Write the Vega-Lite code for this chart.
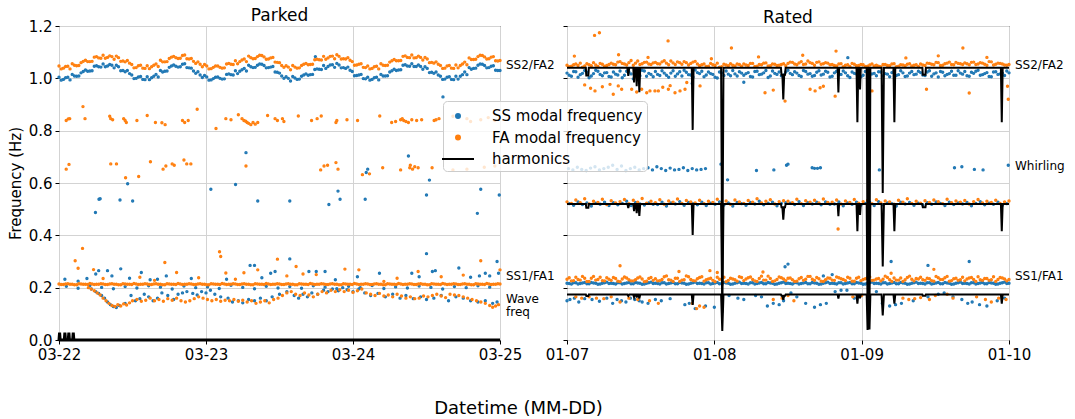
{
"$schema":"https://vega.github.io/schema/vega-lite/v6.json",
"autosize":{"type":"pad"},
"padding":{"left":7,"top":6,"right":5,"bottom":0},
"background":"#ffffff",
"spacing":67,
"bounds":"flush",
"resolve":{"scale":{"fill":"shared","stroke":"shared","shape":"shared"},"legend":{"fill":"shared","stroke":"shared","shape":"shared"}},
"config":{
 "font":"DejaVu Sans",
 "view":{"stroke":"#000000","strokeWidth":1},
 "axis":{"domain":false,"labelFont":"DejaVu Sans","labelFontSize":15,"labelColor":"#000000","tickColor":"#000000","tickSize":4,"labelPadding":3,"gridColor":"#d3d3d3","gridWidth":1,"titleFont":"DejaVu Sans","titleFontWeight":"normal","titleColor":"#000000"},
 "title":{"font":"DejaVu Sans","fontSize":17,"fontWeight":"normal","color":"#000000","anchor":"middle","frame":"group"},
 "legend":{"orient":"none","legendX":384,"legendY":75,"title":null,"labelFont":"DejaVu Sans","labelFontSize":15,"labelColor":"#000000","symbolSize":400,"symbolStrokeWidth":2,"labelOffset":23,"rowPadding":2.5,"padding":4,"fillColor":"rgba(255,255,255,0.8)","strokeColor":"#cccccc","cornerRadius":4}
},
"datasets":{
 "pts":[
  {"p":"Parked","s":"SS modal frequency","t":[0,0.03,0.06,0.09,0.12,0.15,0.18,0.21,0.24,0.27,0.3,0.33,0.36,0.39,0.42,0.45,0.48,0.51,0.54,0.57,0.6,0.63,0.66,0.69,0.72,0.75,0.78,0.81,0.84,0.87,0.9,0.93,0.96,0.99,1.02,1.05,1.08,1.11,1.14,1.17,1.2,1.23,1.26,1.29,1.32,1.35,1.38,1.41,1.44,1.47,1.5,1.53,1.56,1.59,1.62,1.65,1.68,1.71,1.74,1.77,1.8,1.83,1.86,1.89,1.92,1.95,1.98,2.01,2.04,2.07,2.1,2.13,2.16,2.19,2.22,2.25,2.28,2.31,2.34,2.37,2.4,2.43,2.46,2.49,2.52,2.55,2.58,2.61,2.64,2.67,2.7,2.73,2.76,2.79,2.82,2.85,2.88,2.91,2.94,2.97,3],
   "f":[1.004,0.996,1.004,1.015,1.008,1.021,1.032,1.028,1.046,1.044,1.055,1.047,1.050,1.050,1.029,1.025,1.018,0.999,1.005,0.996,1.006,1.002,1.015,1.030,1.027,1.042,1.051,1.043,1.054,1.041,1.039,1.019,1.013,1.011,0.993,0.999,1.005,0.997,1.015,1.014,1.029,1.027,1.038,1.050,1.041,1.050,1.054,1.040,1.043,1.024,1.020,1.000,1.000,1.007,0.996,1.008,1.017,1.014,1.034,1.035,1.049,1.045,1.052,1.057,1.040,1.038,1.031,1.010,1.013,0.999,1.004,0.996,1.004,1.015,1.009,1.024,1.035,1.032,1.050,1.047,1.056,1.045,1.045,1.044,1.022,1.019,1.013,0.996,1.004,0.996,1.008,1.008,1.024,1.041,1.038,1.050,1.054,1.040,1.046,1.031,1.030]},
  {"p":"Parked","s":"SS modal frequency","t":[0.015,0.045,0.075,0.105,0.135,0.165,0.195,0.225,0.255,0.285,0.315,0.345,0.375,0.405,0.435,0.465,0.495,0.525,0.555,0.585,0.615,0.645,0.675,0.705,0.735,0.765,0.795,0.825,0.855,0.885,0.915,0.945,0.975,1.005,1.035,1.065,1.095,1.125,1.155,1.185,1.215,1.245,1.275,1.305,1.335,1.365,1.395,1.425,1.455,1.485,1.515,1.545,1.575,1.605,1.635,1.665,1.695,1.725,1.755,1.785,1.815,1.845,1.875,1.905,1.935,1.965,1.995,2.025,2.055,2.085,2.115,2.145,2.175,2.205,2.235,2.265,2.295,2.325,2.355,2.385,2.415,2.445,2.475,2.505,2.535,2.565,2.595,2.625,2.655,2.685,2.715,2.745,2.775,2.805,2.835,2.865,2.895,2.925,2.955,2.985],
   "f":[0.993,1.002,0.994,1.009,1.009,1.026,1.027,1.029,1.048,1.043,1.044,1.053,1.040,1.044,1.030,1.030,1.013,1.000,1.007,0.995,0.995,1.008,1.005,1.024,1.028,1.047,1.046,1.044,1.056,1.040,1.028,1.025,1.003,1.005,0.994,1.004,1.000,0.998,1.017,1.013,1.018,1.033,1.028,1.044,1.042,1.055,1.049,1.041,1.045,1.023,1.009,1.006,0.990,1.001,0.997,1.013,1.012,1.015,1.036,1.034,1.038,1.051,1.042,1.051,1.041,1.043,1.026,1.011,1.015,0.998,0.993,1.002,0.994,1.009,1.010,1.029,1.030,1.033,1.052,1.046,1.045,1.051,1.035,1.038,1.023,1.024,1.008,0.997,1.006,0.995,0.997,1.014,1.014,1.035,1.039,1.055,1.049,1.041,1.048,1.030]},
  {"p":"Parked","s":"SS modal frequency","t":[0.248,0.272,0.28,0.415,0.467,0.501,1.033,1.201,1.272,1.352,1.57,1.836,1.898,1.912,2.083,2.09,2.10,2.377,2.50,2.52,2.612,2.846,2.869,2.995,1.744],
   "f":[0.487,0.538,0.540,0.535,0.597,0.531,0.576,0.594,0.716,0.531,0.531,0.518,0.569,0.538,0.538,0.640,0.653,0.703,0.554,0.611,0.929,0.484,0.576,0.554,1.083]},
  {"p":"Parked","s":"SS modal frequency","t":[0.04,0.13,0.19,0.25,0.27,0.33,0.36,0.42,0.48,0.56,0.62,0.67,0.73,0.90,1.14,1.30,1.33,1.38,1.44,1.47,1.57,1.70,1.75,1.81,1.88,2.03,2.18,2.40,2.45,2.50,2.54,2.56,2.72,2.80,2.86,2.90,2.93,2.98,2.99],
   "f":[0.232,0.225,0.235,0.252,0.265,0.265,0.245,0.272,0.236,0.258,0.230,0.232,0.245,0.235,0.232,0.285,0.285,0.238,0.255,0.262,0.310,0.262,0.262,0.262,0.230,0.242,0.255,0.255,0.242,0.330,0.262,0.265,0.275,0.240,0.245,0.255,0.245,0.300,0.255]},
  {"p":"Parked","s":"SS modal frequency","t":[0.22,0.25,0.27,0.29,0.31,0.33,0.35,0.37,0.39,0.41,0.45,0.49,0.52,0.55,0.58,0.61,0.64,0.67,0.70,0.74,0.78,0.81,0.84,0.87,0.91,0.94,0.97,1.00,1.03,1.06,1.10,1.15,1.18,1.22,1.25,1.29,1.33,1.37,1.41,1.45,1.50,1.55,1.60,1.63,1.66,1.69,1.72,1.76,1.80,1.83,1.86,1.90,1.93,1.96,2.00,2.04,2.08,2.12,2.17,2.22,2.27,2.32,2.36,2.41,2.46,2.50,2.55,2.60,2.65,2.70,2.75,2.80,2.85,2.90,2.95,2.98],
   "f":[0.195,0.185,0.178,0.170,0.160,0.145,0.135,0.128,0.124,0.132,0.140,0.170,0.150,0.158,0.175,0.165,0.150,0.160,0.180,0.170,0.155,0.175,0.180,0.185,0.178,0.172,0.185,0.180,0.190,0.175,0.165,0.160,0.145,0.150,0.142,0.155,0.150,0.160,0.150,0.165,0.175,0.185,0.170,0.160,0.175,0.165,0.180,0.175,0.190,0.185,0.195,0.188,0.200,0.192,0.185,0.195,0.180,0.170,0.178,0.165,0.175,0.160,0.170,0.158,0.165,0.155,0.160,0.170,0.150,0.165,0.160,0.150,0.145,0.150,0.140,0.145]},
  {"p":"Parked","s":"SS modal frequency","t":[0.05,0.13,0.21,0.29,0.37,0.45,0.53,0.61,0.69,0.77,0.85,0.93,1.01,1.09,1.17,1.25,1.33,1.41,1.49,1.57,1.65,1.73,1.81,1.89,1.97,2.05,2.13,2.21,2.29,2.37,2.45,2.53,2.61,2.69,2.77,2.85,2.93],
   "f":[0.205,0.198,0.208,0.201,0.196,0.204,0.199,0.207,0.202,0.195,0.206,0.200,0.203,0.197,0.209,0.201,0.196,0.205,0.199,0.204,0.198,0.207,0.202,0.196,0.205,0.200,0.208,0.197,0.203,0.199,0.206,0.201,0.195,0.204,0.200,0.207,0.202]},
  {"p":"Parked","s":"FA modal frequency","t":[0,0.03,0.06,0.09,0.12,0.15,0.18,0.21,0.24,0.27,0.3,0.33,0.36,0.39,0.42,0.45,0.48,0.51,0.54,0.57,0.6,0.63,0.66,0.69,0.72,0.75,0.78,0.81,0.84,0.87,0.9,0.93,0.96,0.99,1.02,1.05,1.08,1.11,1.14,1.17,1.2,1.23,1.26,1.29,1.32,1.35,1.38,1.41,1.44,1.47,1.5,1.53,1.56,1.59,1.62,1.65,1.68,1.71,1.74,1.77,1.8,1.83,1.86,1.89,1.92,1.95,1.98,2.01,2.04,2.07,2.1,2.13,2.16,2.19,2.22,2.25,2.28,2.31,2.34,2.37,2.4,2.43,2.46,2.49,2.52,2.55,2.58,2.61,2.64,2.67,2.7,2.73,2.76,2.79,2.82,2.85,2.88,2.91,2.94,2.97,3],
   "f":[1.047,1.039,1.046,1.056,1.048,1.060,1.069,1.064,1.081,1.078,1.088,1.080,1.083,1.085,1.065,1.063,1.058,1.040,1.048,1.039,1.048,1.044,1.055,1.069,1.063,1.076,1.084,1.076,1.087,1.075,1.076,1.057,1.054,1.053,1.036,1.042,1.047,1.039,1.055,1.054,1.067,1.064,1.074,1.085,1.075,1.083,1.087,1.073,1.078,1.062,1.060,1.042,1.043,1.049,1.039,1.049,1.057,1.053,1.071,1.071,1.084,1.078,1.085,1.090,1.074,1.074,1.069,1.050,1.054,1.042,1.047,1.038,1.046,1.056,1.049,1.062,1.072,1.067,1.084,1.080,1.089,1.079,1.080,1.080,1.060,1.058,1.054,1.038,1.047,1.039,1.051,1.049,1.062,1.078,1.072,1.083,1.087,1.074,1.081,1.067,1.068]},
  {"p":"Parked","s":"FA modal frequency","t":[0.015,0.045,0.075,0.105,0.135,0.165,0.195,0.225,0.255,0.285,0.315,0.345,0.375,0.405,0.435,0.465,0.495,0.525,0.555,0.585,0.615,0.645,0.675,0.705,0.735,0.765,0.795,0.825,0.855,0.885,0.915,0.945,0.975,1.005,1.035,1.065,1.095,1.125,1.155,1.185,1.215,1.245,1.275,1.305,1.335,1.365,1.395,1.425,1.455,1.485,1.515,1.545,1.575,1.605,1.635,1.665,1.695,1.725,1.755,1.785,1.815,1.845,1.875,1.905,1.935,1.965,1.995,2.025,2.055,2.085,2.115,2.145,2.175,2.205,2.235,2.265,2.295,2.325,2.355,2.385,2.415,2.445,2.475,2.505,2.535,2.565,2.595,2.625,2.655,2.685,2.715,2.745,2.775,2.805,2.835,2.865,2.895,2.925,2.955,2.985],
   "f":[1.036,1.045,1.036,1.050,1.049,1.065,1.064,1.065,1.083,1.077,1.077,1.086,1.073,1.079,1.066,1.068,1.053,1.041,1.050,1.038,1.037,1.050,1.045,1.063,1.064,1.081,1.079,1.077,1.089,1.074,1.065,1.063,1.044,1.047,1.037,1.047,1.042,1.040,1.057,1.053,1.056,1.070,1.064,1.079,1.076,1.088,1.082,1.074,1.080,1.061,1.049,1.048,1.033,1.043,1.040,1.054,1.052,1.054,1.073,1.070,1.073,1.084,1.075,1.084,1.075,1.079,1.064,1.051,1.056,1.041,1.036,1.044,1.036,1.050,1.050,1.067,1.067,1.068,1.086,1.079,1.078,1.085,1.070,1.074,1.061,1.063,1.049,1.039,1.049,1.038,1.040,1.055,1.052,1.072,1.073,1.088,1.082,1.075,1.083,1.066]},
  {"p":"Parked","s":"FA modal frequency","t":[0.049,0.063,0.073,0.163,0.177,0.345,0.352,0.365,0.44,0.45,0.458,0.53,0.60,0.656,0.70,0.722,0.84,0.855,0.879,0.94,1.068,1.135,1.17,1.22,1.245,1.258,1.27,1.28,1.29,1.305,1.32,1.335,1.352,1.419,1.47,1.486,1.52,1.53,1.628,1.718,1.756,1.784,1.884,1.89,1.959,2.031,2.182,2.263,2.29,2.324,2.335,2.345,2.36,2.377,2.40,2.433,2.467,2.552,2.565,2.585,2.68,2.775,2.80,2.869,2.92,2.965],
   "f":[0.839,0.845,0.846,0.892,0.846,0.855,0.846,0.842,0.846,0.839,0.831,0.839,0.858,0.831,0.830,0.823,0.839,0.831,0.839,0.882,0.808,0.846,0.842,0.861,0.846,0.839,0.836,0.831,0.828,0.823,0.831,0.825,0.831,0.858,0.846,0.839,0.846,0.835,0.856,0.839,0.846,0.856,0.831,0.839,0.842,0.839,0.856,0.831,0.835,0.842,0.846,0.839,0.835,0.831,0.842,0.839,0.842,0.839,0.842,0.846,0.855,0.846,0.835,0.842,0.850,0.839]},
  {"p":"Parked","s":"FA modal frequency","t":[0.049,0.068,0.352,0.391,0.453,0.542,0.622,0.708,0.727,0.770,0.784,0.850,0.869,0.897,1.272,1.780,1.803,1.827,1.884,1.898,2.064,2.112,2.202,2.324,2.386,2.39,2.405,2.42,2.443,2.538,2.68,2.775,2.893,2.965],
   "f":[0.653,0.671,0.673,0.673,0.620,0.625,0.681,0.653,0.665,0.673,0.668,0.688,0.673,0.673,0.665,0.650,0.665,0.668,0.678,0.653,0.632,0.635,0.658,0.650,0.658,0.668,0.653,0.662,0.658,0.658,0.650,0.653,0.660,0.665]},
  {"p":"Parked","s":"FA modal frequency","t":[0.20,0.22,0.24,0.26,0.28,0.30,0.32,0.34,0.36,0.38,0.40,0.42,0.44,0.46,0.48,0.50,0.53,0.56,0.59,0.62,0.65,0.68,0.71,0.74,0.77,0.80,0.83,0.86,0.89,0.92,0.95,0.98,1.01,1.04,1.07,1.10,1.13,1.16,1.19,1.22,1.25,1.28,1.31,1.34,1.37,1.40,1.43,1.46,1.49,1.52,1.55,1.58,1.61,1.64,1.67,1.70,1.73,1.76,1.79,1.82,1.85,1.88,1.91,1.94,1.97,2.00,2.03,2.06,2.09,2.12,2.15,2.18,2.21,2.24,2.27,2.30,2.33,2.36,2.39,2.42,2.45,2.48,2.51,2.54,2.57,2.60,2.63,2.66,2.69,2.72,2.75,2.78,2.81,2.84,2.87,2.90,2.93,2.95,2.97,2.99],
   "f":[0.200,0.195,0.188,0.180,0.172,0.160,0.150,0.140,0.132,0.128,0.135,0.130,0.138,0.134,0.142,0.150,0.155,0.148,0.152,0.160,0.150,0.155,0.148,0.158,0.152,0.160,0.150,0.145,0.150,0.158,0.165,0.160,0.155,0.150,0.155,0.148,0.152,0.150,0.155,0.148,0.152,0.145,0.150,0.140,0.145,0.150,0.142,0.155,0.160,0.170,0.180,0.185,0.175,0.170,0.180,0.172,0.165,0.175,0.185,0.180,0.190,0.185,0.192,0.185,0.190,0.182,0.188,0.195,0.180,0.175,0.170,0.178,0.168,0.172,0.165,0.175,0.168,0.160,0.165,0.158,0.160,0.168,0.165,0.170,0.175,0.168,0.162,0.175,0.172,0.170,0.165,0.160,0.155,0.150,0.145,0.140,0.132,0.125,0.130,0.135]},
  {"p":"Parked","s":"FA modal frequency","t":[0,0.03,0.06,0.09,0.12,0.15,0.18,0.21,0.24,0.27,0.3,0.33,0.36,0.39,0.42,0.45,0.48,0.51,0.54,0.57,0.6,0.63,0.66,0.69,0.72,0.75,0.78,0.81,0.84,0.87,0.9,0.93,0.96,0.99,1.02,1.05,1.08,1.11,1.14,1.17,1.2,1.23,1.26,1.29,1.32,1.35,1.38,1.41,1.44,1.47,1.5,1.53,1.56,1.59,1.62,1.65,1.68,1.71,1.74,1.77,1.8,1.83,1.86,1.89,1.92,1.95,1.98,2.01,2.04,2.07,2.1,2.13,2.16,2.19,2.22,2.25,2.28,2.31,2.34,2.37,2.4,2.43,2.46,2.49,2.52,2.55,2.58,2.61,2.64,2.67,2.7,2.73,2.76,2.79,2.82,2.85,2.88,2.91,2.94,2.97,3],
   "f":[0.214,0.212,0.215,0.213,0.211,0.214,0.213,0.216,0.212,0.213,0.214,0.212,0.215,0.213,0.211,0.214,0.213,0.216,0.212,0.213,0.214,0.212,0.215,0.213,0.211,0.214,0.213,0.216,0.212,0.213,0.214,0.212,0.215,0.213,0.211,0.214,0.213,0.216,0.212,0.213,0.214,0.212,0.215,0.213,0.211,0.214,0.213,0.216,0.212,0.213,0.214,0.212,0.215,0.213,0.211,0.214,0.213,0.216,0.212,0.213,0.214,0.212,0.215,0.213,0.211,0.214,0.213,0.216,0.212,0.213,0.214,0.212,0.215,0.213,0.211,0.214,0.213,0.216,0.212,0.213,0.214,0.212,0.215,0.213,0.211,0.214,0.213,0.216,0.212,0.213,0.214,0.212,0.215,0.213,0.211,0.214,0.213,0.216,0.212,0.213,0.214]},
  {"p":"Parked","s":"FA modal frequency","t":[0.015,0.045,0.075,0.105,0.135,0.165,0.195,0.225,0.255,0.285,0.315,0.345,0.375,0.405,0.435,0.465,0.495,0.525,0.555,0.585,0.615,0.645,0.675,0.705,0.735,0.765,0.795,0.825,0.855,0.885,0.915,0.945,0.975,1.005,1.035,1.065,1.095,1.125,1.155,1.185,1.215,1.245,1.275,1.305,1.335,1.365,1.395,1.425,1.455,1.485,1.515,1.545,1.575,1.605,1.635,1.665,1.695,1.725,1.755,1.785,1.815,1.845,1.875,1.905,1.935,1.965,1.995,2.025,2.055,2.085,2.115,2.145,2.175,2.205,2.235,2.265,2.295,2.325,2.355,2.385,2.415,2.445,2.475,2.505,2.535,2.565,2.595,2.625,2.655,2.685,2.715,2.745,2.775,2.805,2.835,2.865,2.895,2.925,2.955,2.985],
   "f":[0.212,0.214,0.213,0.211,0.215,0.213,0.212,0.214,0.213,0.215,0.212,0.214,0.213,0.211,0.215,0.213,0.212,0.214,0.213,0.215,0.212,0.214,0.213,0.211,0.215,0.213,0.212,0.214,0.213,0.215,0.212,0.214,0.213,0.211,0.215,0.213,0.212,0.214,0.213,0.215,0.212,0.214,0.213,0.211,0.215,0.213,0.212,0.214,0.213,0.215,0.212,0.214,0.213,0.211,0.215,0.213,0.212,0.214,0.213,0.215,0.212,0.214,0.213,0.211,0.215,0.213,0.212,0.214,0.213,0.215,0.212,0.214,0.213,0.211,0.215,0.213,0.212,0.214,0.213,0.215,0.212,0.214,0.213,0.211,0.215,0.213,0.212,0.214,0.213,0.215,0.212,0.214,0.213,0.211,0.215,0.213,0.212,0.214,0.213,0.215]},
  {"p":"Parked","s":"FA modal frequency","t":[0.11,0.13,0.16,0.235,0.72,0.80,1.092,1.10,1.135,1.258,1.352,1.486,1.613,1.66,1.945,2.04,2.21,2.443,2.869,3.0,0.30,0.55,0.65,0.95,1.20,1.55,1.75,2.30,2.60,2.75],
   "f":[0.303,0.274,0.350,0.269,0.296,0.258,0.337,0.319,0.256,0.257,0.268,0.309,0.281,0.252,0.271,0.268,0.224,0.262,0.303,0.268,0.235,0.240,0.228,0.238,0.232,0.245,0.250,0.236,0.242,0.248]},
  {"p":"Rated","s":"SS modal frequency","t":[0,0.03,0.06,0.09,0.12,0.15,0.18,0.21,0.24,0.27,0.3,0.33,0.36,0.39,0.42,0.45,0.48,0.51,0.54,0.57,0.6,0.63,0.66,0.69,0.72,0.75,0.78,0.81,0.84,0.87,0.9,0.93,0.96,0.99,1.02,1.05,1.08,1.11,1.14,1.17,1.2,1.23,1.26,1.29,1.32,1.35,1.38,1.41,1.44,1.47,1.5,1.53,1.56,1.59,1.62,1.65,1.68,1.71,1.74,1.77,1.8,1.83,1.86,1.89,1.92,1.95,1.98,2.01,2.04,2.07,2.1,2.13,2.16,2.19,2.22,2.25,2.28,2.31,2.34,2.37,2.4,2.43,2.46,2.49,2.52,2.55,2.58,2.61,2.64,2.67,2.7,2.73,2.76,2.79,2.82,2.85,2.88,2.91,2.94,2.97,3],
   "f":[1.020,1.008,1.025,1.014,1.030,1.002,1.018,1.027,1.010,1.022,1.005,1.016,1.028,1.012,1.024,0.998,1.019,1.031,1.008,1.015,1.026,1.011,1.020,1.004,1.029,1.017,1.009,1.023,1.013,1.032,1.018,1.006,1.024,1.015,1.001,1.021,1.028,1.010,1.017,1.025,1.012,1.022,1.005,1.027,1.016,1.030,1.009,1.019,1.024,1.013,1.031,1.014,1.020,1.007,1.026,1.018,1.011,1.029,1.016,1.023,1.008,1.027,1.015,1.021,1.003,1.019,1.030,1.012,1.025,1.017,1.010,1.024,1.018,1.006,1.028,1.014,1.021,1.009,1.026,1.016,1.022,1.011,1.029,1.017,1.005,1.023,1.015,1.027,1.012,1.020,1.026,1.008,1.019,1.031,1.014,1.022,1.006,1.025,1.017,1.011,1.021]},
  {"p":"Rated","s":"SS modal frequency","t":[0.015,0.045,0.075,0.105,0.135,0.165,0.195,0.225,0.255,0.285,0.315,0.345,0.375,0.405,0.435,0.465,0.495,0.525,0.555,0.585,0.615,0.645,0.675,0.705,0.735,0.765,0.795,0.825,0.855,0.885,0.915,0.945,0.975,1.005,1.035,1.065,1.095,1.125,1.155,1.185,1.215,1.245,1.275,1.305,1.335,1.365,1.395,1.425,1.455,1.485,1.515,1.545,1.575,1.605,1.635,1.665,1.695,1.725,1.755,1.785,1.815,1.845,1.875,1.905,1.935,1.965,1.995,2.025,2.055,2.085,2.115,2.145,2.175,2.205,2.235,2.265,2.295,2.325,2.355,2.385,2.415,2.445,2.475,2.505,2.535,2.565,2.595,2.625,2.655,2.685,2.715,2.745,2.775,2.805,2.835,2.865,2.895,2.925,2.955,2.985],
   "f":[1.012,1.026,1.004,1.019,1.023,1.009,1.031,1.015,1.021,1.007,1.024,1.013,1.002,1.027,1.017,1.022,1.010,1.028,1.019,1.006,1.015,1.029,1.012,1.020,1.008,1.025,1.031,1.014,1.005,1.022,1.027,1.013,1.018,1.004,1.024,1.011,1.016,1.030,1.009,1.020,1.018,1.007,1.026,1.014,1.021,1.003,1.028,1.015,1.010,1.024,1.019,1.025,1.011,1.030,1.016,1.008,1.023,1.013,1.027,1.005,1.021,1.014,1.028,1.010,1.024,1.017,1.006,1.026,1.012,1.019,1.025,1.009,1.016,1.022,1.011,1.029,1.007,1.020,1.014,1.027,1.013,1.024,1.008,1.021,1.026,1.010,1.018,1.012,1.029,1.016,1.010,1.023,1.027,1.012,1.018,1.007,1.024,1.015,1.020,1.028]},
  {"p":"Rated","s":"SS modal frequency","t":[0.01,0.04,0.07,0.10,0.13,0.16,0.19,0.22,0.25,0.28,0.31,0.34,0.37,0.40,0.43,0.46,0.49,0.52,0.55,0.58,0.61,0.64,0.67,0.70,0.73,0.76,0.79,0.82,0.85,0.88,0.91,0.94,1.045,1.09,1.286,1.404,1.49,1.50,1.664,1.68,1.70,1.72,2.12,2.63,2.68,2.765,2.824,2.995],
   "f":[0.655,0.650,0.660,0.652,0.648,0.657,0.662,0.650,0.655,0.660,0.668,0.652,0.665,0.648,0.655,0.660,0.650,0.655,0.658,0.650,0.662,0.655,0.648,0.657,0.650,0.652,0.658,0.648,0.655,0.650,0.652,0.655,0.672,0.612,0.648,0.650,0.668,0.672,0.658,0.656,0.656,0.658,0.650,0.658,0.662,0.652,0.650,0.668]},
  {"p":"Rated","s":"SS modal frequency","t":[0.015,0.045,0.075,0.105,0.135,0.165,0.195,0.225,0.255,0.285,0.315,0.345,0.375,0.405,0.435,0.465,0.495,0.525,0.555,0.585,0.615,0.645,0.675,0.705,0.735,0.765,0.795,0.825,0.855,0.885,0.915,0.945,0.975,1.005,1.035,1.065,1.095,1.125,1.155,1.185,1.215,1.245,1.275,1.305,1.335,1.365,1.395,1.425,1.455,1.485,1.515,1.545,1.575,1.605,1.635,1.665,1.695,1.725,1.755,1.785,1.815,1.845,1.875,1.905,1.935,1.965,1.995,2.025,2.055,2.085,2.115,2.145,2.175,2.205,2.235,2.265,2.295,2.325,2.355,2.385,2.415,2.445,2.475,2.505,2.535,2.565,2.595,2.625,2.655,2.685,2.715,2.745,2.775,2.805,2.835,2.865,2.895,2.925,2.955,2.985],
   "f":[0.521,0.515,0.528,0.518,0.524,0.512,0.523,0.519,0.527,0.514,0.525,0.517,0.522,0.530,0.514,0.526,0.520,0.516,0.524,0.519,0.518,0.527,0.512,0.524,0.520,0.529,0.515,0.526,0.521,0.517,0.527,0.514,0.523,0.519,0.528,0.516,0.524,0.512,0.526,0.521,0.515,0.526,0.520,0.530,0.517,0.523,0.527,0.513,0.522,0.525,0.523,0.518,0.529,0.514,0.525,0.520,0.527,0.517,0.528,0.519,0.520,0.528,0.513,0.524,0.519,0.527,0.516,0.522,0.526,0.514,0.529,0.517,0.524,0.521,0.512,0.527,0.520,0.526,0.515,0.523,0.516,0.525,0.519,0.528,0.522,0.514,0.527,0.518,0.524,0.520,0.526,0.513,0.522,0.529,0.517,0.523,0.519,0.527,0.515,0.521]},
  {"p":"Rated","s":"SS modal frequency","t":[0,0.03,0.06,0.09,0.12,0.15,0.18,0.21,0.24,0.27,0.3,0.33,0.36,0.39,0.42,0.45,0.48,0.51,0.54,0.57,0.6,0.63,0.66,0.69,0.72,0.75,0.78,0.81,0.84,0.87,0.9,0.93,0.96,0.99,1.02,1.05,1.08,1.11,1.14,1.17,1.2,1.23,1.26,1.29,1.32,1.35,1.38,1.41,1.44,1.47,1.5,1.53,1.56,1.59,1.62,1.65,1.68,1.71,1.74,1.77,1.8,1.83,1.86,1.89,1.92,1.95,1.98,2.01,2.04,2.07,2.1,2.13,2.16,2.19,2.22,2.25,2.28,2.31,2.34,2.37,2.4,2.43,2.46,2.49,2.52,2.55,2.58,2.61,2.64,2.67,2.7,2.73,2.76,2.79,2.82,2.85,2.88,2.91,2.94,2.97,3],
   "f":[0.217,0.214,0.219,0.216,0.220,0.215,0.218,0.213,0.217,0.221,0.217,0.214,0.219,0.216,0.220,0.215,0.218,0.213,0.217,0.221,0.217,0.214,0.219,0.216,0.220,0.215,0.218,0.213,0.217,0.221,0.217,0.214,0.219,0.216,0.220,0.215,0.218,0.213,0.217,0.221,0.217,0.214,0.219,0.216,0.220,0.215,0.218,0.213,0.217,0.221,0.217,0.214,0.219,0.216,0.220,0.215,0.218,0.213,0.217,0.221,0.217,0.214,0.219,0.216,0.220,0.215,0.218,0.213,0.217,0.221,0.217,0.214,0.219,0.216,0.220,0.215,0.218,0.213,0.217,0.221,0.217,0.214,0.219,0.216,0.220,0.215,0.218,0.213,0.217,0.221,0.217,0.214,0.219,0.216,0.220,0.215,0.218,0.213,0.217,0.221,0.217]},
  {"p":"Rated","s":"SS modal frequency","t":[0.015,0.045,0.075,0.105,0.135,0.165,0.195,0.225,0.255,0.285,0.315,0.345,0.375,0.405,0.435,0.465,0.495,0.525,0.555,0.585,0.615,0.645,0.675,0.705,0.735,0.765,0.795,0.825,0.855,0.885,0.915,0.945,0.975,1.005,1.035,1.065,1.095,1.125,1.155,1.185,1.215,1.245,1.275,1.305,1.335,1.365,1.395,1.425,1.455,1.485,1.515,1.545,1.575,1.605,1.635,1.665,1.695,1.725,1.755,1.785,1.815,1.845,1.875,1.905,1.935,1.965,1.995,2.025,2.055,2.085,2.115,2.145,2.175,2.205,2.235,2.265,2.295,2.325,2.355,2.385,2.415,2.445,2.475,2.505,2.535,2.565,2.595,2.625,2.655,2.685,2.715,2.745,2.775,2.805,2.835,2.865,2.895,2.925,2.955,2.985],
   "f":[0.216,0.219,0.214,0.218,0.215,0.220,0.217,0.214,0.219,0.216,0.216,0.219,0.214,0.218,0.215,0.220,0.217,0.214,0.219,0.216,0.216,0.219,0.214,0.218,0.215,0.220,0.217,0.214,0.219,0.216,0.216,0.219,0.214,0.218,0.215,0.220,0.217,0.214,0.219,0.216,0.216,0.219,0.214,0.218,0.215,0.220,0.217,0.214,0.219,0.216,0.216,0.219,0.214,0.218,0.215,0.220,0.217,0.214,0.219,0.216,0.216,0.219,0.214,0.218,0.215,0.220,0.217,0.214,0.219,0.216,0.216,0.219,0.214,0.218,0.215,0.220,0.217,0.214,0.219,0.216,0.216,0.219,0.214,0.218,0.215,0.220,0.217,0.214,0.219,0.216,0.216,0.219,0.214,0.218,0.215,0.220,0.217,0.214,0.219,0.216]},
  {"p":"Rated","s":"SS modal frequency","t":[0.00,0.02,0.05,0.08,0.12,0.17,0.22,0.27,0.31,0.34,0.37,0.40,0.43,0.46,0.49,0.51,0.55,0.60,0.64,0.70,0.80,0.83,0.87,0.94,1.00,1.10,1.16,1.20,1.28,1.32,1.36,1.40,1.44,1.47,1.52,1.56,1.62,1.68,1.72,1.76,1.82,1.86,1.90,1.95,2.10,2.14,2.19,2.23,2.27,2.35,2.45,2.52,2.56,2.62,2.68,2.72,2.75,2.80,2.85,2.92,2.97],
   "f":[0.150,0.155,0.160,0.145,0.158,0.155,0.148,0.160,0.140,0.155,0.150,0.145,0.160,0.155,0.150,0.145,0.140,0.155,0.150,0.158,0.135,0.140,0.120,0.130,0.125,0.170,0.160,0.155,0.170,0.165,0.130,0.140,0.135,0.150,0.180,0.165,0.140,0.125,0.135,0.140,0.185,0.190,0.190,0.160,0.185,0.140,0.130,0.135,0.140,0.150,0.165,0.175,0.180,0.165,0.155,0.140,0.145,0.135,0.130,0.150,0.160]},
  {"p":"Rated","s":"SS modal frequency","t":[1.906,1.48,1.50,2.20,2.45,2.73,1.74,1.80,0.85,1.2],
   "f":[1.079,0.28,0.29,0.30,0.285,0.30,0.245,0.25,0.98,0.985]},
  {"p":"Rated","s":"FA modal frequency","t":[0,0.03,0.06,0.09,0.12,0.15,0.18,0.21,0.24,0.27,0.3,0.33,0.36,0.39,0.42,0.45,0.48,0.51,0.54,0.57,0.6,0.63,0.66,0.69,0.72,0.75,0.78,0.81,0.84,0.87,0.9,0.93,0.96,0.99,1.02,1.05,1.08,1.11,1.14,1.17,1.2,1.23,1.26,1.29,1.32,1.35,1.38,1.41,1.44,1.47,1.5,1.53,1.56,1.59,1.62,1.65,1.68,1.71,1.74,1.77,1.8,1.83,1.86,1.89,1.92,1.95,1.98,2.01,2.04,2.07,2.1,2.13,2.16,2.19,2.22,2.25,2.28,2.31,2.34,2.37,2.4,2.43,2.46,2.49,2.52,2.55,2.58,2.61,2.64,2.67,2.7,2.73,2.76,2.79,2.82,2.85,2.88,2.91,2.94,2.97,3],
   "f":[1.050,1.046,1.055,1.058,1.047,1.052,1.060,1.045,1.054,1.049,1.058,1.052,1.064,1.055,1.060,1.050,1.066,1.056,1.062,1.053,1.061,1.055,1.067,1.052,1.059,1.063,1.054,1.060,1.057,1.065,1.048,1.055,1.046,1.052,1.058,1.044,1.051,1.056,1.047,1.053,1.055,1.049,1.057,1.046,1.052,1.059,1.048,1.054,1.050,1.056,1.057,1.061,1.052,1.064,1.055,1.060,1.050,1.063,1.056,1.058,1.053,1.047,1.056,1.050,1.045,1.054,1.049,1.052,1.046,1.055,1.050,1.044,1.053,1.048,1.056,1.046,1.051,1.054,1.047,1.052,1.055,1.049,1.057,1.052,1.060,1.050,1.058,1.053,1.061,1.056,1.059,1.052,1.062,1.055,1.058,1.050,1.063,1.054,1.057,1.051,1.053]},
  {"p":"Rated","s":"FA modal frequency","t":[0.015,0.045,0.075,0.105,0.135,0.165,0.195,0.225,0.255,0.285,0.315,0.345,0.375,0.405,0.435,0.465,0.495,0.525,0.555,0.585,0.615,0.645,0.675,0.705,0.735,0.765,0.795,0.825,0.855,0.885,0.915,0.945,0.975,1.005,1.035,1.065,1.095,1.125,1.155,1.185,1.215,1.245,1.275,1.305,1.335,1.365,1.395,1.425,1.455,1.485,1.515,1.545,1.575,1.605,1.635,1.665,1.695,1.725,1.755,1.785,1.815,1.845,1.875,1.905,1.935,1.965,1.995,2.025,2.055,2.085,2.115,2.145,2.175,2.205,2.235,2.265,2.295,2.325,2.355,2.385,2.415,2.445,2.475,2.505,2.535,2.565,2.595,2.625,2.655,2.685,2.715,2.745,2.775,2.805,2.835,2.865,2.895,2.925,2.955,2.985],
   "f":[1.044,1.052,1.049,1.043,1.056,1.048,1.051,1.057,1.046,1.053,1.054,1.062,1.057,1.051,1.068,1.058,1.053,1.061,1.055,1.059,1.056,1.063,1.058,1.066,1.053,1.060,1.064,1.051,1.062,1.055,1.052,1.045,1.057,1.049,1.043,1.054,1.048,1.050,1.055,1.046,1.051,1.057,1.045,1.053,1.058,1.047,1.055,1.049,1.053,1.048,1.062,1.055,1.059,1.053,1.066,1.057,1.061,1.054,1.060,1.052,1.049,1.055,1.044,1.052,1.057,1.048,1.053,1.045,1.051,1.047,1.046,1.053,1.049,1.055,1.044,1.052,1.048,1.056,1.050,1.045,1.051,1.058,1.054,1.061,1.049,1.056,1.062,1.052,1.057,1.053,1.056,1.061,1.053,1.060,1.054,1.064,1.051,1.058,1.055,1.050]},
  {"p":"Rated","s":"FA modal frequency","t":[0.19,0.292,0.314,0.348,0.371,0.439,0.473,0.507,0.541,0.563,0.597,0.620,0.688,0.733,0.767,0.801,0.813,0.903,1.344,1.40,1.48,1.65,1.684,1.718,1.74,1.82,2.07,2.44,2.73,2.99,2.995,0.12,0.16,0.24,0.65,0.70],
   "f":[0.952,0.977,0.939,0.971,0.958,0.958,0.948,0.958,0.945,0.952,0.952,0.952,0.958,0.945,0.952,0.958,0.984,0.971,0.945,0.955,0.913,0.958,0.952,0.964,0.970,0.932,0.952,0.958,0.944,0.970,0.920,0.975,0.962,0.968,0.966,0.972]},
  {"p":"Rated","s":"FA modal frequency","t":[0.187,0.22,0.686,1.116,1.826,2.687,0.05,0.35,0.55,0.98,1.30,1.60,2.30,2.52,2.85],
   "f":[1.164,1.174,1.143,1.116,1.104,1.116,1.085,1.09,1.08,1.075,1.082,1.088,1.078,1.086,1.08]},
  {"p":"Rated","s":"FA modal frequency","t":[0,0.03,0.06,0.09,0.12,0.15,0.18,0.21,0.24,0.27,0.3,0.33,0.36,0.39,0.42,0.45,0.48,0.51,0.54,0.57,0.6,0.63,0.66,0.69,0.72,0.75,0.78,0.81,0.84,0.87,0.9,0.93,0.96,0.99,1.02,1.05,1.08,1.11,1.14,1.17,1.2,1.23,1.26,1.29,1.32,1.35,1.38,1.41,1.44,1.47,1.5,1.53,1.56,1.59,1.62,1.65,1.68,1.71,1.74,1.77,1.8,1.83,1.86,1.89,1.92,1.95,1.98,2.01,2.04,2.07,2.1,2.13,2.16,2.19,2.22,2.25,2.28,2.31,2.34,2.37,2.4,2.43,2.46,2.49,2.52,2.55,2.58,2.61,2.64,2.67,2.7,2.73,2.76,2.79,2.82,2.85,2.88,2.91,2.94,2.97,3],
   "f":[0.528,0.522,0.535,0.525,0.540,0.520,0.530,0.526,0.538,0.518,0.532,0.524,0.529,0.537,0.521,0.534,0.527,0.541,0.523,0.530,0.525,0.536,0.519,0.531,0.527,0.539,0.522,0.533,0.528,0.524,0.534,0.521,0.530,0.526,0.538,0.523,0.531,0.519,0.535,0.528,0.522,0.533,0.527,0.540,0.524,0.530,0.536,0.520,0.529,0.532,0.530,0.525,0.538,0.521,0.532,0.527,0.534,0.524,0.539,0.526,0.527,0.535,0.520,0.531,0.526,0.537,0.523,0.529,0.533,0.521,0.536,0.524,0.531,0.528,0.519,0.534,0.527,0.540,0.522,0.530,0.523,0.532,0.526,0.535,0.529,0.521,0.538,0.525,0.531,0.527,0.533,0.520,0.529,0.537,0.524,0.530,0.526,0.534,0.522,0.528,0.531]},
  {"p":"Rated","s":"FA modal frequency","t":[0,0.03,0.06,0.09,0.12,0.15,0.18,0.21,0.24,0.27,0.3,0.33,0.36,0.39,0.42,0.45,0.48,0.51,0.54,0.57,0.6,0.63,0.66,0.69,0.72,0.75,0.78,0.81,0.84,0.87,0.9,0.93,0.96,0.99,1.02,1.05,1.08,1.11,1.14,1.17,1.2,1.23,1.26,1.29,1.32,1.35,1.38,1.41,1.44,1.47,1.5,1.53,1.56,1.59,1.62,1.65,1.68,1.71,1.74,1.77,1.8,1.83,1.86,1.89,1.92,1.95,1.98,2.01,2.04,2.07,2.1,2.13,2.16,2.19,2.22,2.25,2.28,2.31,2.34,2.37,2.4,2.43,2.46,2.49,2.52,2.55,2.58,2.61,2.64,2.67,2.7,2.73,2.76,2.79,2.82,2.85,2.88,2.91,2.94,2.97,3],
   "f":[0.232,0.226,0.240,0.229,0.236,0.224,0.243,0.231,0.227,0.238,0.228,0.235,0.223,0.241,0.230,0.226,0.237,0.233,0.225,0.239,0.234,0.227,0.242,0.230,0.224,0.236,0.229,0.245,0.231,0.226,0.239,0.225,0.233,0.228,0.240,0.232,0.223,0.236,0.230,0.242,0.227,0.238,0.231,0.224,0.244,0.229,0.235,0.226,0.241,0.233,0.236,0.230,0.225,0.239,0.232,0.243,0.228,0.234,0.224,0.237,0.229,0.241,0.234,0.227,0.236,0.225,0.240,0.231,0.238,0.228,0.233,0.226,0.244,0.230,0.237,0.229,0.224,0.239,0.232,0.235,0.240,0.228,0.234,0.225,0.238,0.231,0.243,0.227,0.236,0.230,0.226,0.237,0.231,0.242,0.228,0.235,0.230,0.224,0.239,0.233,0.231]},
  {"p":"Rated","s":"FA modal frequency","t":[0.015,0.045,0.075,0.105,0.135,0.165,0.195,0.225,0.255,0.285,0.315,0.345,0.375,0.405,0.435,0.465,0.495,0.525,0.555,0.585,0.615,0.645,0.675,0.705,0.735,0.765,0.795,0.825,0.855,0.885,0.915,0.945,0.975,1.005,1.035,1.065,1.095,1.125,1.155,1.185,1.215,1.245,1.275,1.305,1.335,1.365,1.395,1.425,1.455,1.485,1.515,1.545,1.575,1.605,1.635,1.665,1.695,1.725,1.755,1.785,1.815,1.845,1.875,1.905,1.935,1.965,1.995,2.025,2.055,2.085,2.115,2.145,2.175,2.205,2.235,2.265,2.295,2.325,2.355,2.385,2.415,2.445,2.475,2.505,2.535,2.565,2.595,2.625,2.655,2.685,2.715,2.745,2.775,2.805,2.835,2.865,2.895,2.925,2.955,2.985],
   "f":[0.238,0.227,0.231,0.243,0.224,0.236,0.229,0.240,0.226,0.232,0.239,0.225,0.233,0.237,0.226,0.230,0.241,0.223,0.235,0.228,0.226,0.231,0.245,0.229,0.236,0.224,0.230,0.242,0.227,0.234,0.242,0.230,0.236,0.223,0.232,0.240,0.228,0.233,0.225,0.239,0.233,0.241,0.226,0.235,0.229,0.244,0.224,0.231,0.238,0.227,0.237,0.224,0.234,0.228,0.243,0.232,0.239,0.225,0.230,0.236,0.228,0.238,0.231,0.240,0.225,0.236,0.227,0.234,0.241,0.229,0.235,0.232,0.239,0.224,0.229,0.237,0.230,0.244,0.226,0.233,0.230,0.236,0.227,0.243,0.231,0.238,0.225,0.234,0.228,0.240,0.233,0.239,0.224,0.230,0.235,0.228,0.242,0.231,0.237,0.226]},
  {"p":"Rated","s":"FA modal frequency","t":[0.06,0.10,0.15,0.20,0.25,0.30,0.36,0.42,0.48,0.56,0.62,0.85,0.88,0.90,0.93,1.40,1.46,1.50,1.54,1.94,2.00,2.28,2.32,2.36,2.40,2.46,2.50,2.58,2.62,2.78,2.84,2.88,2.93,2.98],
   "f":[0.165,0.160,0.165,0.160,0.158,0.165,0.145,0.160,0.155,0.150,0.140,0.140,0.120,0.130,0.125,0.155,0.160,0.170,0.150,0.165,0.170,0.160,0.155,0.158,0.162,0.155,0.170,0.175,0.160,0.165,0.155,0.145,0.160,0.155]},
  {"p":"Rated","s":"FA modal frequency","t":[1.84,0.36,0.97,1.33,2.49,2.20,0.76,1.02],
   "f":[0.424,0.284,0.265,0.26,0.27,0.255,0.262,0.258]}
 ],
 "harm":[
  {"p":"Parked","h":"all","t":[0,0.004,0.008,0.036,0.040,0.044,0.063,0.067,0.071,0.093,0.097,0.101,3],"f":[0,0.028,0,0,0.028,0,0,0.028,0,0,0.028,0,0]},
  {"p":"Rated","h":"6P","t":[0,0.128,0.131,0.145,0.148,0.41,0.416,0.422,0.45,0.455,0.46,0.468,0.473,0.478,0.485,0.491,0.497,0.847,0.853,0.859,1.046,1.054,1.062,1.452,1.456,1.462,1.468,1.474,1.48,1.484,1.837,1.842,1.847,1.965,1.971,1.977,1.984,1.989,1.994,2.034,2.04,2.046,2.047,2.053,2.059,2.135,2.143,2.151,2.216,2.222,2.228,2.412,2.415,2.433,2.436,2.945,2.951,2.957,3],
   "f":[1.04,1.04,1.011,1.011,1.04,1.04,1.009,1.04,1.04,0.984,1.04,1.04,0.970,1.04,1.04,0.947,1.04,1.04,0.803,1.04,1.04,0.208,1.04,1.04,1.014,1.014,0.919,1.014,1.014,1.04,1.04,0.946,1.04,1.04,0.832,1.04,1.04,0.957,1.04,1.04,0.229,1.04,1.04,0.239,1.04,1.04,0.562,1.04,1.04,0.832,1.04,1.04,1.014,1.014,1.04,1.04,0.832,1.04,1.04]},
  {"p":"Rated","h":"3P","t":[0,0.128,0.131,0.145,0.148,0.41,0.416,0.422,0.45,0.455,0.46,0.468,0.473,0.478,0.485,0.491,0.497,0.847,0.853,0.859,1.046,1.054,1.062,1.452,1.456,1.462,1.468,1.474,1.48,1.484,1.837,1.842,1.847,1.965,1.971,1.977,1.984,1.989,1.994,2.034,2.04,2.046,2.047,2.053,2.059,2.135,2.143,2.151,2.216,2.222,2.228,2.412,2.415,2.433,2.436,2.945,2.951,2.957,3],
   "f":[0.52,0.52,0.505,0.505,0.52,0.52,0.504,0.52,0.52,0.492,0.52,0.52,0.485,0.52,0.52,0.474,0.52,0.52,0.401,0.52,0.52,0.104,0.52,0.52,0.507,0.507,0.460,0.507,0.507,0.52,0.52,0.473,0.52,0.52,0.416,0.52,0.52,0.478,0.52,0.52,0.114,0.52,0.52,0.120,0.52,0.52,0.281,0.52,0.52,0.416,0.52,0.52,0.507,0.507,0.52,0.52,0.416,0.52,0.52]},
  {"p":"Rated","h":"1P","t":[0,0.128,0.131,0.145,0.148,0.41,0.416,0.422,0.45,0.455,0.46,0.468,0.473,0.478,0.485,0.491,0.497,0.847,0.853,0.859,1.046,1.054,1.062,1.452,1.456,1.462,1.468,1.474,1.48,1.484,1.837,1.842,1.847,1.965,1.971,1.977,1.984,1.989,1.994,2.034,2.04,2.046,2.047,2.053,2.059,2.135,2.143,2.151,2.216,2.222,2.228,2.412,2.415,2.433,2.436,2.945,2.951,2.957,3],
   "f":[0.1735,0.1735,0.1686,0.1686,0.1735,0.1735,0.1683,0.1735,0.1735,0.1641,0.1735,0.1735,0.1619,0.1735,0.1735,0.1581,0.1735,0.1735,0.1339,0.1735,0.1735,0.0347,0.1735,0.1735,0.1692,0.1692,0.1534,0.1692,0.1692,0.1735,0.1735,0.1579,0.1735,0.1735,0.1388,0.1735,0.1735,0.1596,0.1735,0.1735,0.0382,0.1735,0.1735,0.0399,0.1735,0.1735,0.0937,0.1735,0.1735,0.1388,0.1735,0.1735,0.1692,0.1692,0.1735,0.1735,0.1388,0.1735,0.1735]}
 ],
 "ann":[
  {"p":"Parked","t":3,"f":1.052,"label":"SS2/FA2"},
  {"p":"Parked","t":3,"f":0.243,"label":"SS1/FA1"},
  {"p":"Parked","t":3,"f":0.158,"label":"Wave"},
  {"p":"Parked","t":3,"f":0.108,"label":"freq"},
  {"p":"Rated","t":3,"f":1.052,"label":"SS2/FA2"},
  {"p":"Rated","t":3,"f":0.665,"label":"Whirling"},
  {"p":"Rated","t":3,"f":0.243,"label":"SS1/FA1"}
 ]
},
"hconcat":[
 {
  "width":441,"height":314,
  "title":{"text":"Parked","offset":-6},
  "encoding":{
   "x":{"field":"t","type":"quantitative","scale":{"domain":[0,3],"nice":false,"zero":false},
        "axis":{"values":[0,1,2,3],"labelExpr":"['03-22','03-23','03-24','03-25'][datum.value]","labelFlush":false,"grid":true,"title":"Datetime (MM-DD)","titleFontSize":18,"titleX":459,"titleY":73,"titleAlign":"center","titleBaseline":"alphabetic"}},
   "y":{"field":"f","type":"quantitative","scale":{"domain":[0,1.2],"nice":false,"zero":false},
        "axis":{"values":[0,0.2,0.4,0.6,0.8,1,1.2],"format":".1f","grid":true,"title":"Frequency (Hz)","titleFontSize":15,"titlePadding":5}}
  },
  "layer":[
   {"data":{"name":"pts"},"transform":[{"filter":"datum.p==='Parked'"},{"flatten":["t","f"]}],
    "mark":{"type":"point","filled":true,"size":49,"opacity":1,"strokeWidth":2},
    "encoding":{
     "fill":{"field":"s","type":"nominal","scale":{"domain":["SS modal frequency","FA modal frequency","harmonics"],"range":["#1f77b4","#ff7f0e","#000000"]}},
     "stroke":{"field":"s","type":"nominal","scale":{"domain":["SS modal frequency","FA modal frequency","harmonics"],"range":["#1f77b4","#ff7f0e","#000000"]}},
     "shape":{"field":"s","type":"nominal","scale":{"domain":["SS modal frequency","FA modal frequency","harmonics"],"range":["M-0.2,0A0.2,0.2,0,1,0,0.2,0A0.2,0.2,0,1,0,-0.2,0Z","M-0.2,0A0.2,0.2,0,1,0,0.2,0A0.2,0.2,0,1,0,-0.2,0Z","M-1.6,0H1.6"]}}
    }},
   {"data":{"name":"harm"},"transform":[{"filter":"datum.p==='Parked'"},{"flatten":["t","f"]}],
    "mark":{"type":"line","strokeWidth":3,"color":"#000000"},
    "encoding":{"detail":{"field":"h"}}},
   {"data":{"name":"ann"},"transform":[{"filter":"datum.p==='Parked'"}],
    "mark":{"type":"text","align":"left","baseline":"middle","dx":6,"fontSize":12,"font":"DejaVu Sans","color":"#000000"},
    "encoding":{"text":{"field":"label"}}}
  ]
 },
 {
  "width":442,"height":314,
  "title":{"text":"Rated","offset":-1},
  "encoding":{
   "x":{"field":"t","type":"quantitative","scale":{"domain":[0,3],"nice":false,"zero":false},
        "axis":{"values":[0,1,2,3],"labelExpr":"['01-07','01-08','01-09','01-10'][datum.value]","labelFlush":false,"grid":true,"title":null}},
   "y":{"field":"f","type":"quantitative","scale":{"domain":[0,1.2],"nice":false,"zero":false},
        "axis":{"values":[0,0.2,0.4,0.6,0.8,1,1.2],"labels":false,"grid":true,"title":null}}
  },
  "layer":[
   {"data":{"name":"pts"},"transform":[{"filter":"datum.p==='Rated'"},{"flatten":["t","f"]}],
    "mark":{"type":"point","filled":true,"size":49,"opacity":1,"strokeWidth":2},
    "encoding":{
     "fill":{"field":"s","type":"nominal","scale":{"domain":["SS modal frequency","FA modal frequency","harmonics"],"range":["#1f77b4","#ff7f0e","#000000"]}},
     "stroke":{"field":"s","type":"nominal","scale":{"domain":["SS modal frequency","FA modal frequency","harmonics"],"range":["#1f77b4","#ff7f0e","#000000"]}},
     "shape":{"field":"s","type":"nominal","scale":{"domain":["SS modal frequency","FA modal frequency","harmonics"],"range":["M-0.2,0A0.2,0.2,0,1,0,0.2,0A0.2,0.2,0,1,0,-0.2,0Z","M-0.2,0A0.2,0.2,0,1,0,0.2,0A0.2,0.2,0,1,0,-0.2,0Z","M-1.6,0H1.6"]}}
    }},
   {"data":{"name":"harm"},"transform":[{"filter":"datum.p==='Rated'"},{"flatten":["t","f"]}],
    "mark":{"type":"line","strokeWidth":2,"color":"#000000"},
    "encoding":{"detail":{"field":"h"}}},
   {"data":{"name":"ann"},"transform":[{"filter":"datum.p==='Rated'"}],
    "mark":{"type":"text","align":"left","baseline":"middle","dx":6,"fontSize":12,"font":"DejaVu Sans","color":"#000000"},
    "encoding":{"text":{"field":"label"}}}
  ]
 }
]
}
